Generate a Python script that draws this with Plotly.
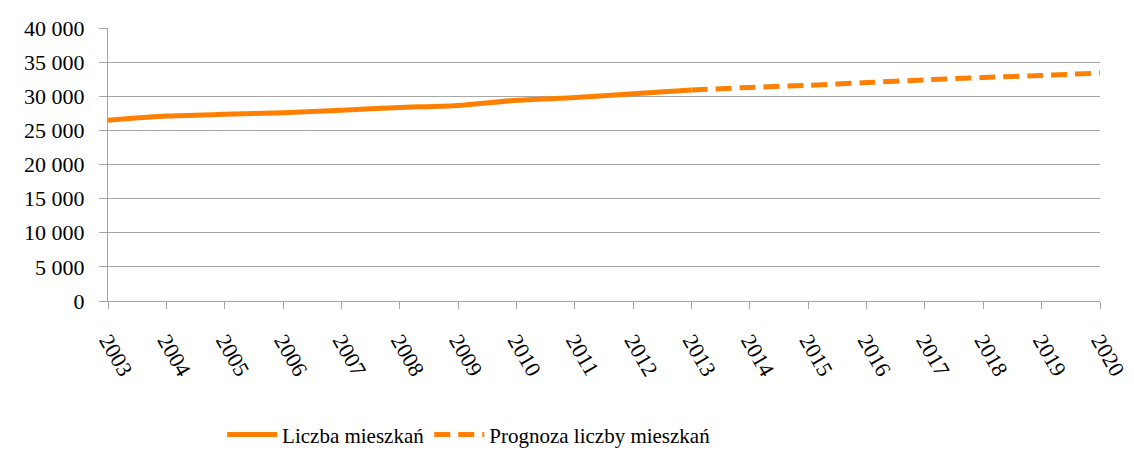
import plotly.graph_objects as go

years_hist = [2003, 2004, 2005, 2006, 2007, 2008, 2009, 2010, 2011, 2012, 2013]
values_hist = [26500, 27100, 27350, 27600, 27950, 28350, 28650, 29400, 29800, 30350, 30900]
years_fc = [2013, 2014, 2015, 2016, 2017, 2018, 2019, 2020]
values_fc = [30900, 31300, 31600, 32000, 32400, 32750, 33050, 33400]
tick_years = list(range(2003, 2021))
name_hist = "Liczba mieszkań"
name_fc = "Prognoza liczby mieszkań"

ORANGE = "#FF8000"
GRID = "#A6A6A6"
FONT = "Liberation Serif"

fig = go.Figure()
fig.add_trace(go.Scatter(x=years_hist, y=values_hist, mode="lines", name=name_hist,
                         line=dict(color=ORANGE, width=5, shape="spline", smoothing=0.5)))
fig.add_trace(go.Scatter(x=years_fc, y=values_fc, mode="lines", name=name_fc,
                         line=dict(color=ORANGE, width=5, dash="16px,8px", shape="spline", smoothing=0.5)))

fig.update_layout(
    width=1126, height=442,
    margin=dict(l=100, r=34, t=20, b=149, autoexpand=False),
    paper_bgcolor="white", plot_bgcolor="white",
    font=dict(family=FONT, size=22, color="black"),
    separators=", ",
    showlegend=True,
    legend=dict(orientation="h", x=0.115, xanchor="left", y=-0.49, yanchor="middle",
                font=dict(family=FONT, size=21, color="black"),
                itemwidth=50, tracegroupgap=0, bgcolor="rgba(0,0,0,0)"),
)
fig.update_xaxes(
    range=[2003, 2020], tickmode="array", tickvals=tick_years,
    ticktext=[str(y) for y in tick_years], tickangle=60,
    showgrid=False, zeroline=False, automargin=False,
    showline=True, linecolor=GRID, linewidth=1,
    ticks="outside", ticklen=7, tickcolor=GRID, tickwidth=1,
    ticklabelstandoff=10,
    tickfont=dict(family=FONT, size=22, color="black"),
)
fig.update_yaxes(
    range=[0, 40000], tickmode="array", tickvals=list(range(0, 40001, 5000)),
    tickformat=",d",
    showgrid=True, gridcolor=GRID, gridwidth=1, zeroline=False, automargin=False,
    showline=True, linecolor=GRID, linewidth=1,
    ticks="outside", ticklen=8, tickcolor=GRID, tickwidth=1,
    ticklabelstandoff=10,
    tickfont=dict(family=FONT, size=22, color="black"),
)

fig.write_html("out.html")
